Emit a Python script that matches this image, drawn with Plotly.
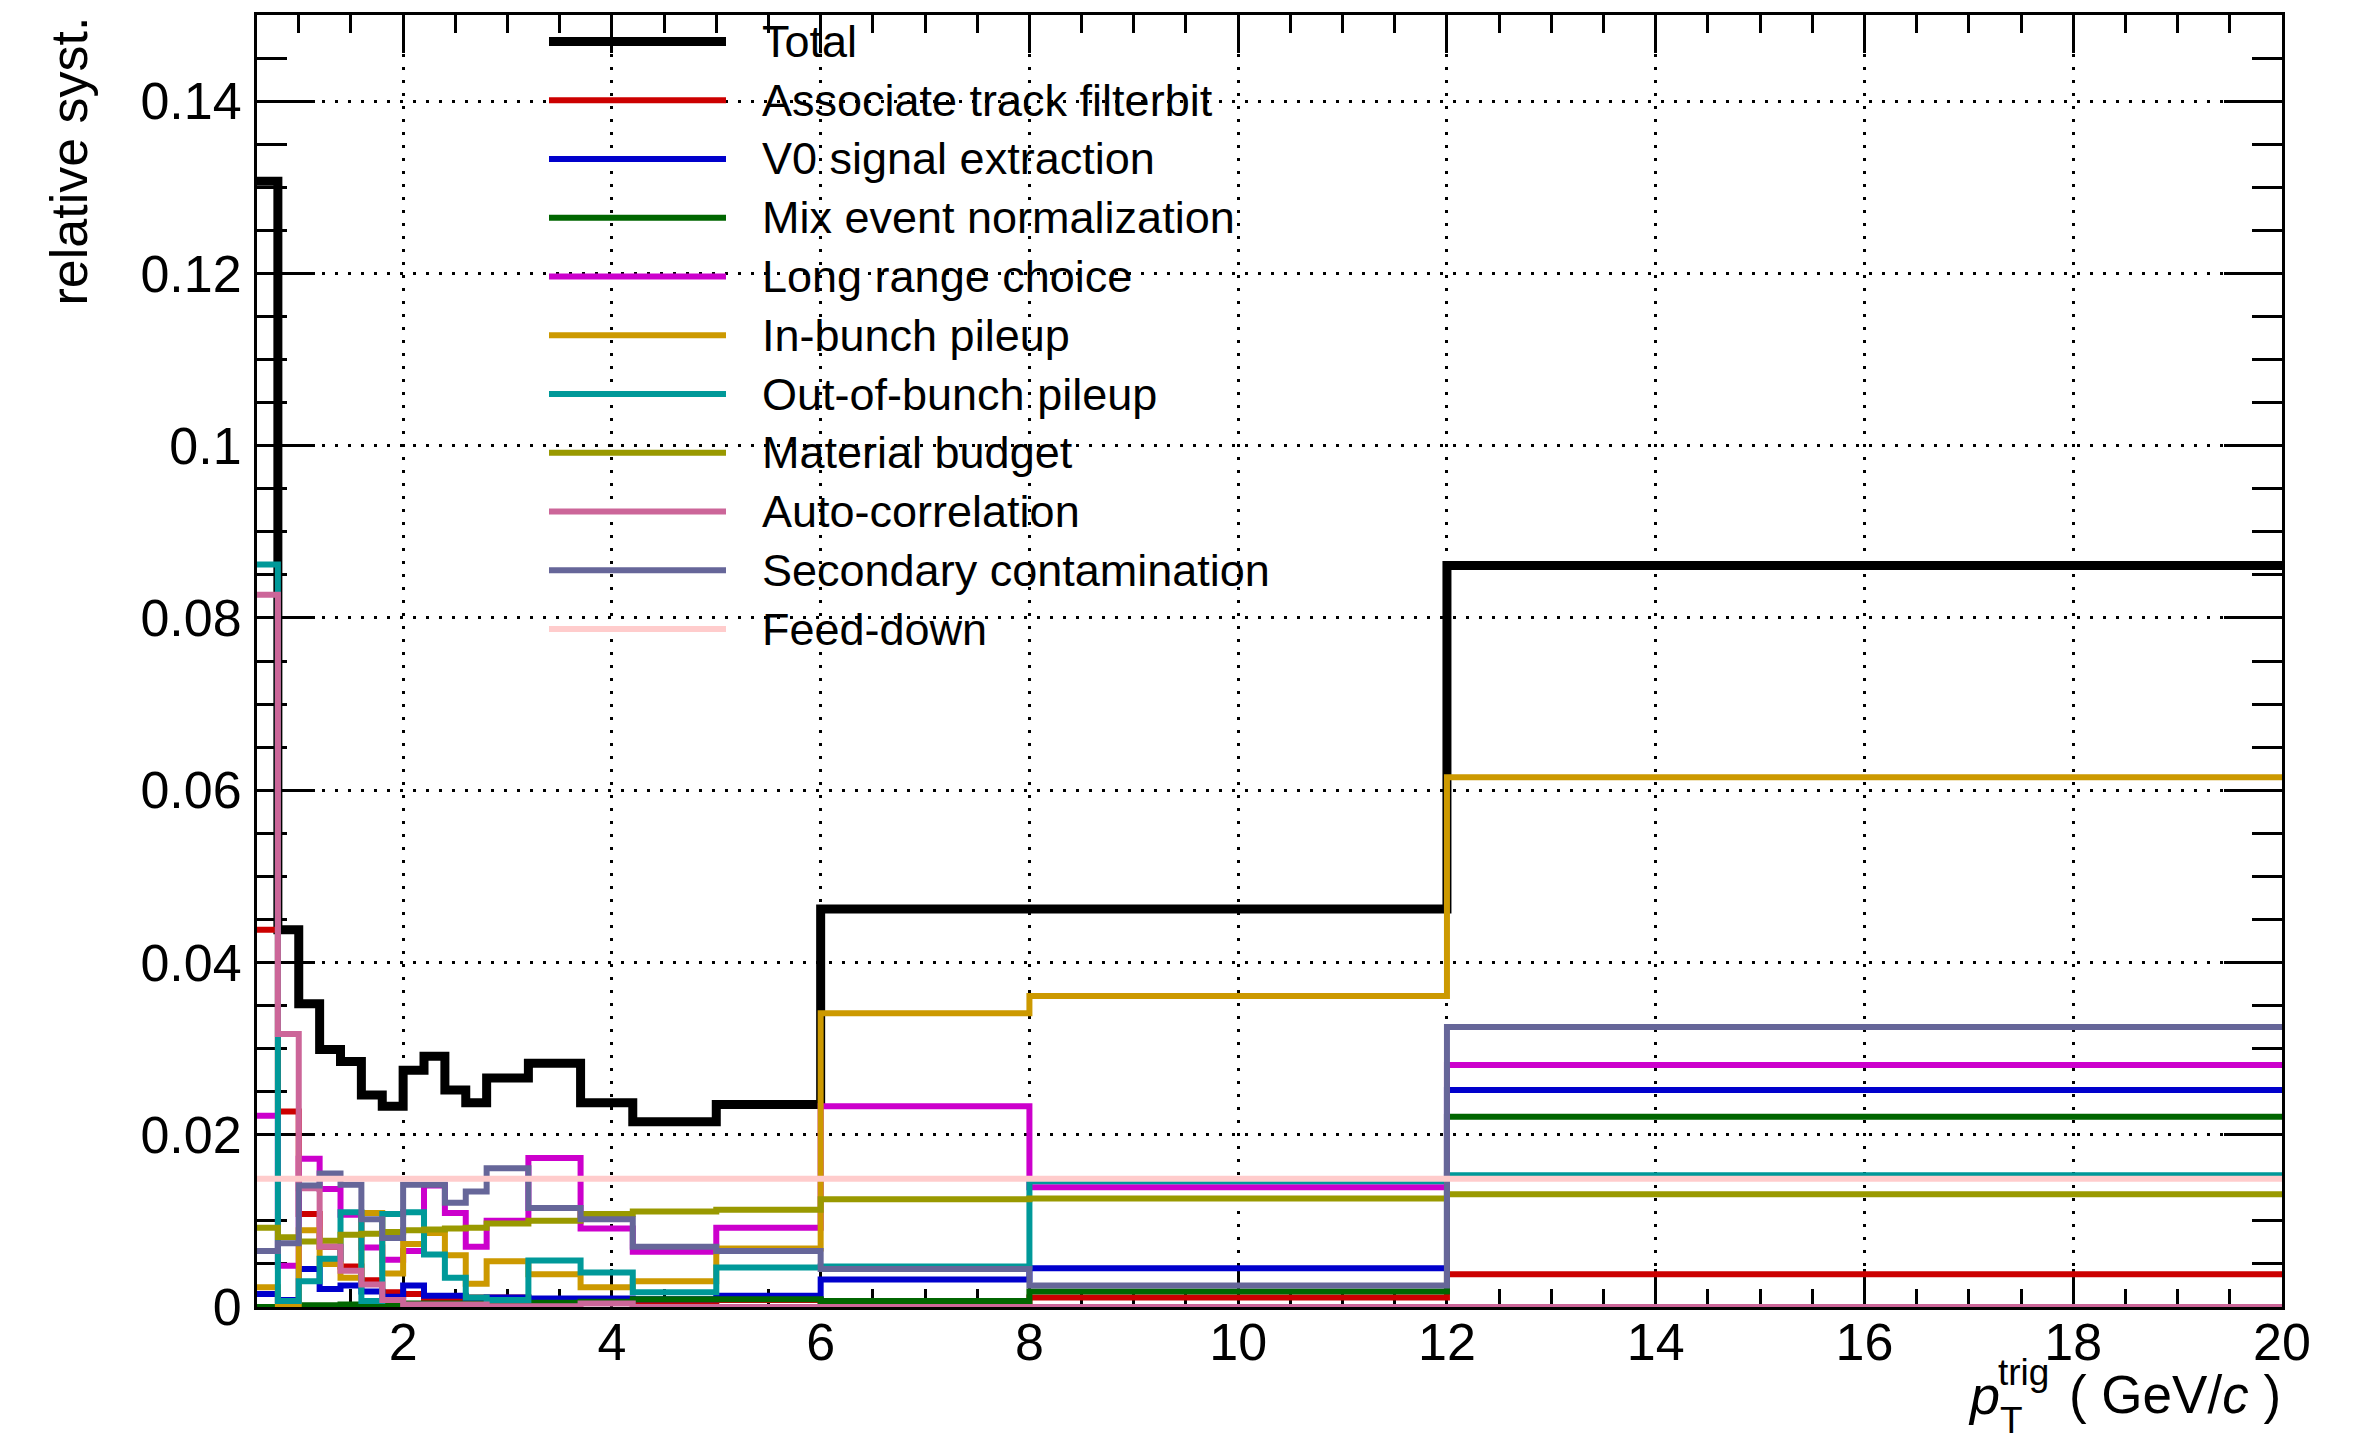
import plotly.graph_objects as go

# Trigger-pT bin edges (GeV/c)
pt_edges = [0.6, 0.8, 1.0, 1.2, 1.4, 1.6, 1.8, 2.0, 2.2, 2.4, 2.6, 2.8,
            3.2, 3.7, 4.2, 5.0, 6.0, 8.0, 12.0, 20.0]

# Relative systematic uncertainty per bin for each source
total = [0.1307, 0.0438, 0.0352, 0.0299, 0.0285, 0.0246, 0.0233, 0.0275, 0.0291, 0.0252,
         0.0237, 0.0266, 0.0283, 0.0237, 0.0215, 0.0235, 0.0462, 0.0462, 0.0861]
assoc_filterbit = [0.0438, 0.0227, 0.0108, 0.0070, 0.0047, 0.0031, 0.0017, 0.0015, 0.0008, 0.0007,
                   0.0011, 0.0011, 0.0006, 0.0005, 0.0003, 0.0008, 0.0007, 0.0011, 0.0038]
v0_signal = [0.0015, 0.0008, 0.0044, 0.0021, 0.0025, 0.0018, 0.0012, 0.0025, 0.0013, 0.0013,
             0.0010, 0.0011, 0.0010, 0.0010, 0.0009, 0.0013, 0.0032, 0.0045, 0.0252]
mix_norm = [0.0000, 0.0000, 0.0002, 0.0002, 0.0003, 0.0003, 0.0003, 0.0004, 0.0004, 0.0004,
            0.0004, 0.0005, 0.0005, 0.0006, 0.0009, 0.0009, 0.0007, 0.0018, 0.0221]
long_range = [0.0222, 0.0048, 0.0172, 0.0137, 0.0107, 0.0069, 0.0055, 0.0065, 0.0141, 0.0109,
              0.0070, 0.0100, 0.0173, 0.0091, 0.0064, 0.0092, 0.0233, 0.0139, 0.0281]
in_bunch = [0.0023, 0.0001, 0.0089, 0.0050, 0.0034, 0.0109, 0.0039, 0.0073, 0.0086, 0.0060,
            0.0027, 0.0053, 0.0038, 0.0023, 0.0030, 0.0068, 0.0341, 0.0361, 0.0615]
out_of_bunch = [0.0862, 0.0007, 0.0030, 0.0056, 0.0110, 0.0007, 0.0108, 0.0110, 0.0061, 0.0034,
                0.0011, 0.0008, 0.0054, 0.0040, 0.0017, 0.0046, 0.0047, 0.0146, 0.0153]
material = [0.0092, 0.0081, 0.0076, 0.0077, 0.0084, 0.0085, 0.0087, 0.0089, 0.0090, 0.0091,
            0.0092, 0.0097, 0.0100, 0.0108, 0.0111, 0.0113, 0.0125, 0.0126, 0.0131]
auto_corr = [0.0827, 0.0317, 0.0138, 0.0070, 0.0042, 0.0026, 0.0008, 0.0003, 0.0003, 0.0003,
             0.0003, 0.0001, 0.0001, 0.0004, 0.0000, 0.0000, 0.0000, 0.0000, 0.0000]
secondary = [0.0065, 0.0074, 0.0141, 0.0155, 0.0142, 0.0102, 0.0080, 0.0142, 0.0142, 0.0121,
             0.0134, 0.0161, 0.0115, 0.0102, 0.0070, 0.0065, 0.0044, 0.0025, 0.0325]
feed_down = [0.0149, 0.0149, 0.0149, 0.0149, 0.0149, 0.0149, 0.0149, 0.0149, 0.0149, 0.0149,
             0.0149, 0.0149, 0.0149, 0.0149, 0.0149, 0.0149, 0.0149, 0.0149, 0.0149]

series_names = ["Total", "Associate track filterbit", "V0 signal extraction",
                "Mix event normalization", "Long range choice", "In-bunch pileup",
                "Out-of-bunch pileup", "Material budget", "Auto-correlation",
                "Secondary contamination", "Feed-down"]
series_values = [total, assoc_filterbit, v0_signal, mix_norm, long_range, in_bunch,
                 out_of_bunch, material, auto_corr, secondary, feed_down]
series_colors = ["#000000", "#cc0000", "#0000cc", "#006600", "#cc00cc", "#cc9900",
                 "#009999", "#999900", "#cc6699", "#666699", "#ffcccc"]
series_widths = [9, 6, 6, 6, 6, 6, 6, 6, 6, 6, 6]

y_tickvals = [0, 0.02, 0.04, 0.06, 0.08, 0.10, 0.12, 0.14]
y_ticktext = ["0", "0.02", "0.04", "0.06", "0.08", "0.1", "0.12", "0.14"]
x_tickvals = [2, 4, 6, 8, 10, 12, 14, 16, 18, 20]
x_ticktext = ["2", "4", "6", "8", "10", "12", "14", "16", "18", "20"]

W, H = 2378, 1443
L, R, T, B = 257, 96, 12, 136
PW, PH = W - L - R, H - T - B
FONT = "Liberation Sans, Arial, Helvetica, sans-serif"


def px_x(px):
    return (px - L) / PW


def px_y(py):
    return (H - B - py) / PH


fig = go.Figure()
for name, vals, col, lw in zip(series_names, series_values, series_colors, series_widths):
    fig.add_trace(go.Scatter(
        x=pt_edges, y=list(vals) + [vals[-1]], mode="lines",
        line=dict(color=col, width=lw, shape="hv"),
        name=name, showlegend=False, hoverinfo="skip"))

# Hand-drawn legend: long line samples with labels to their right
shapes = []
annotations = []
for i, (name, col, lw) in enumerate(zip(series_names, series_colors, series_widths)):
    yy = px_y(38.5 + 58.9 * i)
    shapes.append(dict(type="line", xref="paper", yref="paper",
                       x0=px_x(549), x1=px_x(726), y0=yy, y1=yy,
                       line=dict(color=col, width=lw)))
    annotations.append(dict(xref="paper", yref="paper", x=px_x(760), y=yy,
                            xanchor="left", yanchor="middle", showarrow=False,
                            text=name, font=dict(family=FONT, size=45, color="black")))

# Axis titles
annotations.append(dict(xref="paper", yref="paper", x=px_x(68), y=px_y(12),
                        xanchor="center", yanchor="top", textangle=-90, showarrow=False,
                        text="relative syst.", font=dict(family=FONT, size=52, color="black")))
annotations.append(dict(xref="paper", yref="paper", x=px_x(1966), y=px_y(1395),
                        xanchor="left", yanchor="middle", showarrow=False,
                        text="<i>p</i>", font=dict(family=FONT, size=54, color="black")))
annotations.append(dict(xref="paper", yref="paper", x=px_x(1996), y=px_y(1373),
                        xanchor="left", yanchor="middle", showarrow=False,
                        text="trig", font=dict(family=FONT, size=37, color="black")))
annotations.append(dict(xref="paper", yref="paper", x=px_x(1998), y=px_y(1421),
                        xanchor="left", yanchor="middle", showarrow=False,
                        text="T", font=dict(family=FONT, size=37, color="black")))
annotations.append(dict(xref="paper", yref="paper", x=px_x(2283), y=px_y(1395),
                        xanchor="right", yanchor="middle", showarrow=False,
                        text="( GeV/<i>c</i> )", font=dict(family=FONT, size=53, color="black")))

grid_style = dict(showgrid=True, gridcolor="black", gridwidth=3, griddash="3px,10px")

fig.update_layout(
    width=W, height=H,
    margin=dict(l=L, r=R, t=T, b=B, pad=0),
    paper_bgcolor="white", plot_bgcolor="white",
    font=dict(family=FONT, size=52, color="black"),
    shapes=shapes, annotations=annotations,
    xaxis=dict(range=[0.6, 20], tickmode="array", tickvals=x_tickvals, ticktext=x_ticktext,
               ticks="inside", ticklen=38, tickwidth=3, tickcolor="black",
               showline=True, linecolor="black", linewidth=3, mirror="ticks",
               zeroline=False, layer="below traces", ticklabelstandoff=-12,
               tickfont=dict(family=FONT, size=52, color="black"),
               minor=dict(tick0=0, dtick=0.5, ticks="inside", ticklen=18, tickwidth=3,
                          tickcolor="black", showgrid=False),
               **grid_style),
    yaxis=dict(range=[0, 0.15], tickmode="array", tickvals=y_tickvals, ticktext=y_ticktext,
               ticks="inside", ticklen=58, tickwidth=3, tickcolor="black",
               showline=True, linecolor="black", linewidth=3, mirror="ticks",
               zeroline=False, layer="below traces", ticklabelstandoff=2,
               tickfont=dict(family=FONT, size=52, color="black"),
               minor=dict(tick0=0, dtick=0.005, ticks="inside", ticklen=30, tickwidth=3,
                          tickcolor="black", showgrid=False),
               **grid_style),
)

fig.write_html("out.html")
